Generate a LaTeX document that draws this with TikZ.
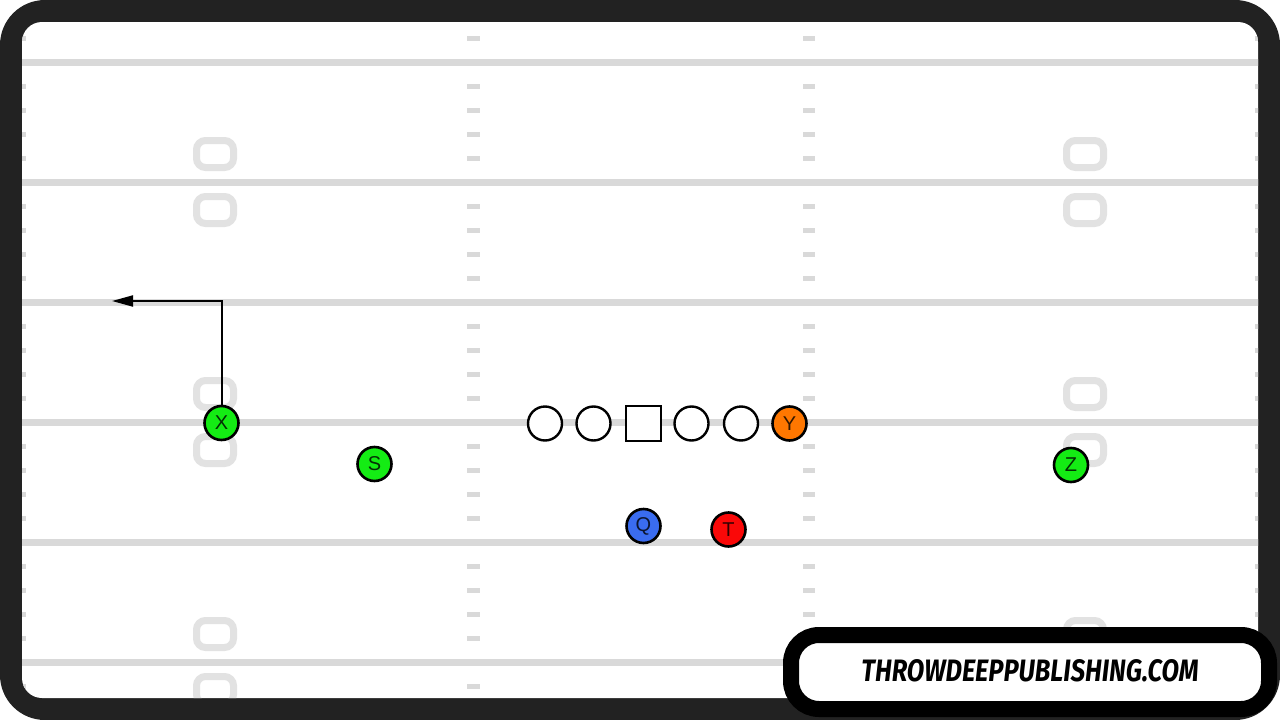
\documentclass[tikz,border=0pt]{standalone}
\usepackage{fontspec}
\setmainfont{Liberation Sans}
\newfontfamily\wmfont{Fira Sans}
\usetikzlibrary{arrows.meta}
\definecolor{frame}{RGB}{34,34,34}
\definecolor{yard}{RGB}{217,217,217}
\definecolor{numc}{RGB}{226,226,226}
\definecolor{pgreen}{RGB}{20,236,20}
\definecolor{porange}{RGB}{255,119,0}
\definecolor{pblue}{RGB}{58,108,240}
\definecolor{pred}{RGB}{250,8,8}
\tikzset{
  player/.style={circle,draw=black,line width=2.6pt,minimum size=34pt,inner sep=0pt,
    font=\fontsize{20}{20}\selectfont,text opacity=0.8},
  lineman/.style={circle,draw=black,line width=2.4pt,minimum size=34pt,inner sep=0pt,fill=white},
  center/.style={rectangle,draw=black,line width=2.4pt,minimum size=35pt,inner sep=0pt,fill=white},
  yardline/.style={yard,line width=7pt},
  hashm/.style={fill=yard},
  numshape/.style={draw=numc,line width=7pt,rounded corners=9pt},
  route/.style={black,line width=2pt,-{Triangle[length=21pt,width=11pt]}},
  wmbox/.style={draw=black,fill=white,line width=16pt,rounded corners=28pt},
}
\begin{document}
\begin{tikzpicture}[x=1pt,y=-1pt]
\useasboundingbox (0,0) rectangle (1280,720);
\fill[white] (0,0) rectangle (1280,720);
\fill[frame,rounded corners=45pt] (0,0) rectangle (1280,720);
\fill[white,rounded corners=20pt] (22,22) rectangle (1258,698);
\begin{scope}
  \clip[rounded corners=20pt] (22,22) rectangle (1258,698);
  % yard lines
  \foreach \y in {62,182,302,422,542,662}
    \draw[yardline] (0,\y) -- (1280,\y);
  % hash marks
  \foreach \k in {0,...,27}{
    \pgfmathtruncatemacro\r{mod(\k,5)}
    \pgfmathsetmacro\yy{38+24*\k}
    \ifnum\r=1\relax\else
      \fill[hashm] (467,\yy-2.5) rectangle (480,\yy+2.5);
      \fill[hashm] (803,\yy-2.5) rectangle (815,\yy+2.5);
      \fill[hashm] (14,\yy-2.5) rectangle (25.5,\yy+2.5);
      \fill[hashm] (1255,\yy-2.5) rectangle (1266,\yy+2.5);
    \fi
  }
  % yard numbers
  \foreach \cx in {215,1085}
    \foreach \cy in {154,210,394,450,634,690}
      \draw[numshape] (\cx-18.5,\cy-13.5) rectangle (\cx+18.5,\cy+13.5);
\end{scope}
% players
\node[lineman] (lt) at (545,423.5) {};
\node[lineman] (lg) at (593.5,423.5) {};
\node[center] (C) at (643.5,423.5) {};
\node[lineman] (rg) at (691.5,423.5) {};
\node[lineman] (rt) at (741,423.5) {};
\node[player,fill=porange] (Y) at (789.5,423.5) {Y};
\node[player,fill=pgreen] (X) at (221.5,423) {X};
\node[player,fill=pgreen] (S) at (374.5,464) {S};
\node[player,fill=pgreen] (Z) at (1071,465) {Z};
\node[player,fill=pblue] (Q) at (643.5,526) {Q};
\node[player,fill=pred] (T) at (728.5,529.5) {T};
% route
\coordinate (brk) at (221.5,301);
\coordinate (rend) at (112,301);
\draw[route] (X.north) -- (brk) -- (rend);
% watermark
\draw[wmbox] (791,635) rectangle (1269,709);
\node[inner sep=0pt] (wm) at (1030,671) {\resizebox{337pt}{22pt}{\wmfont\bfseries\itshape THROWDEEPPUBLISHING.COM}};
\end{tikzpicture}
\end{document}
